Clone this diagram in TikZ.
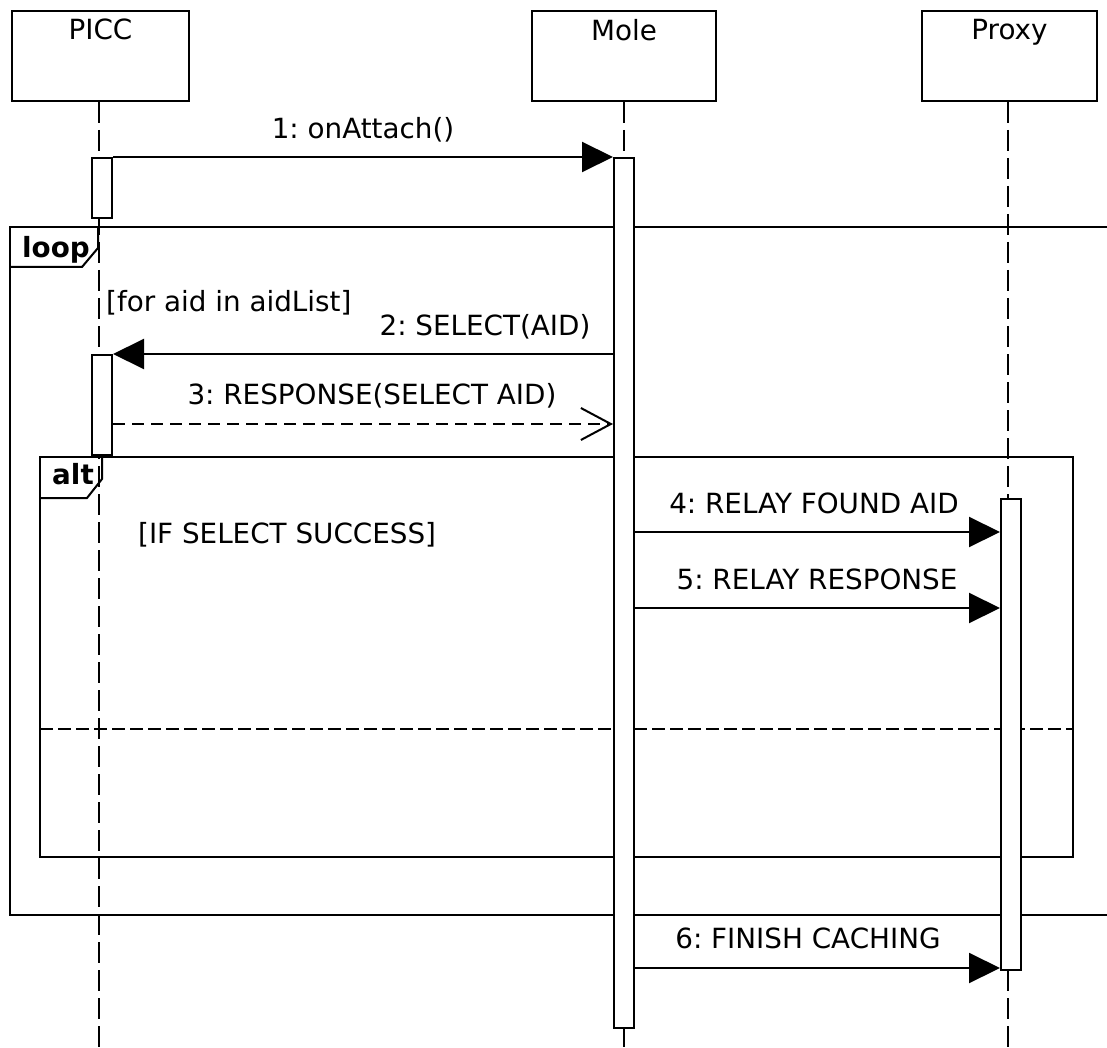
\documentclass[tikz,border=0pt]{standalone}
\usepackage{fontspec}
\setmainfont{DejaVu Sans}
\usepackage{tikz}
\usepackage{xcolor}
\usetikzlibrary{arrows.meta,positioning}
\frenchspacing
\tikzset{
    head-box/.style = {draw, fill=white, line width=2pt, rectangle, minimum width=177pt, minimum height=90pt, inner sep=0pt},
    head-text/.style = {inner sep=0pt, font=\fontsize{27.8}{33}\selectfont},
    life-line/.style = {line width=2pt, dash pattern=on 21pt off 7pt},
    act-box/.style = {draw, fill=white, line width=2pt, rectangle, minimum width=20pt, inner sep=0pt},
    sync-msg/.style = {line width=2pt, -{Triangle[length=31pt,width=30pt]}},
    reply-msg/.style = {line width=2pt, dash pattern=on 12pt off 7pt, -{Straight Barb[length=30pt,width=32pt,line width=2pt]}},
    msg-text/.style = {anchor=base, inner sep=0pt, font=\fontsize{27.8}{33}\selectfont},
    frame-line/.style = {line width=2pt},
    frame-title/.style = {anchor=base west, inner sep=0pt, font=\fontsize{27.8}{33}\selectfont\bfseries},
}

\begin{document}
\begin{tikzpicture}[x=1pt,y=-1pt]
\useasboundingbox (0,0) rectangle (1107,1048);

% participants
\node [head-box] (picc) at (100.5,56) {};
\node [head-text, below=9pt of picc.north] (picc-text) {PICC};
\node [head-box, minimum width=184pt] (mole) at (624,56) {};
\node [head-text, below=9pt of mole.north] (mole-text) {Mole};
\node [head-box, minimum width=175pt] (proxy) at (1009.5,56) {};
\node [head-text, below=9pt of proxy.north] (proxy-text) {Proxy};

\coordinate (picc-end) at (99,1048);
\coordinate (mole-end) at (624,1048);
\coordinate (proxy-end) at (1008,1048);
\draw [life-line] (picc.south -| picc-end) -- (picc-end);
\draw [life-line] (mole.south) -- (mole-end);
\draw [life-line] (proxy.south -| proxy-end) -- (proxy-end);

% loop frame
\draw [frame-line] (1110,227) -- (10,227) -- (10,915) -- (1110,915);
\draw [frame-line] (10,267) -- (82,267) -- (98,248) -- (98,227);
\node [frame-title] (loop-title) at (22,258) {loop};
\node [msg-text, anchor=base west] (loop-guard) at (106,312) {[for aid in aidList]};

% alt frame
\draw [frame-line] (40,457) rectangle (1073,857);
\draw [frame-line] (40,498) -- (87,498) -- (102,479) -- (102,457);
\node [frame-title] (alt-title) at (52,484) {alt};
\node [msg-text, anchor=base west] (alt-guard) at (138,543) {[IF SELECT SUCCESS]};
\draw [frame-line, dash pattern=on 13pt off 5pt] (40,729) -- (1073,729);

% activations
\node [act-box, minimum height=60pt, anchor=north] (picc-act1) at (102,157) {};
\node [act-box, minimum height=100pt, anchor=north] (picc-act2) at (102,354) {};
\node [act-box, minimum height=870pt, anchor=north] (mole-act) at (624,157) {};
\node [act-box, minimum height=471pt, anchor=north] (proxy-act) at (1011,498) {};

\coordinate (msg4) at (0,532);
\coordinate (msg5) at (0,608);
\coordinate (msg6) at (0,968);

% messages
\draw [sync-msg] (picc-act1.north east) -- (mole-act.north west);
\node [msg-text] (msg1-text) at (363,139) {1: onAttach()};
\draw [sync-msg] (mole-act.west |- picc-act2.north) -- (picc-act2.north east);
\node [msg-text] (msg2-text) at (485,335) {2: SELECT(AID)};
\draw [reply-msg] (picc-act2.east |- 0,424) -- (mole-act.west |- 0,424);
\node [msg-text] (msg3-text) at (372,404) {3: RESPONSE(SELECT AID)};
\draw [sync-msg] (mole-act.east |- msg4) -- (proxy-act.west |- msg4);
\node [msg-text] (msg4-text) at (814,513) {4: RELAY FOUND AID};
\draw [sync-msg] (mole-act.east |- msg5) -- (proxy-act.west |- msg5);
\node [msg-text] (msg5-text) at (817,589) {5: RELAY RESPONSE};
\draw [sync-msg] (mole-act.east |- msg6) -- (proxy-act.west |- msg6);
\node [msg-text] (msg6-text) at (808,948) {6: FINISH CACHING};
\end{tikzpicture}
\end{document}
